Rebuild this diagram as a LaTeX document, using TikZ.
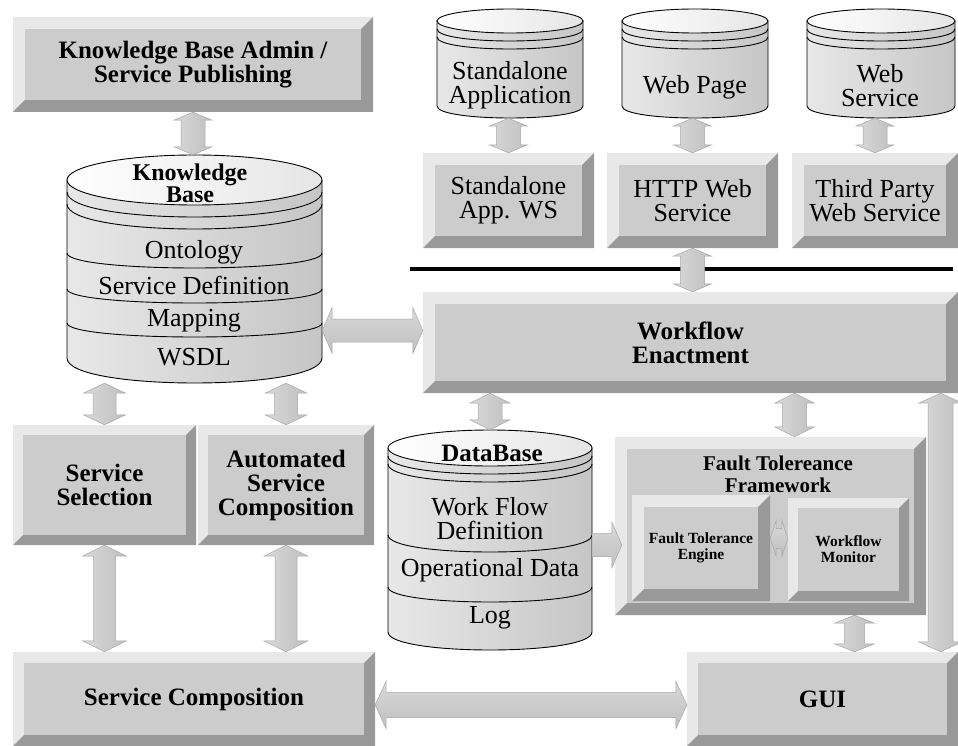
\documentclass[tikz,border=0pt]{standalone}
\usepackage{fontspec}
\setmainfont{Liberation Serif}
\usetikzlibrary{calc}
\definecolor{bvlight}{RGB}{232,232,232}
\definecolor{bvface}{RGB}{204,204,204}
\definecolor{bvdark}{RGB}{153,153,153}
\tikzset{
 bevel/.style={rectangle, inner sep=0pt, align=center, fill=bvface,
  path picture={
   \def\bv{#1pt}
   \fill[bvlight] (path picture bounding box.south west) rectangle (path picture bounding box.north east);
   \fill[bvdark] (path picture bounding box.north east) -- (path picture bounding box.south east)
     -- (path picture bounding box.south west) -- ([xshift=\bv,yshift=\bv]path picture bounding box.south west)
     -- ([xshift=-\bv,yshift=\bv]path picture bounding box.south east)
     -- ([xshift=-\bv,yshift=-\bv]path picture bounding box.north east) -- cycle;
   \fill[bvface] ([xshift=\bv,yshift=\bv]path picture bounding box.south west) rectangle ([xshift=-\bv,yshift=-\bv]path picture bounding box.north east);
  }},
 reg/.style={font=\fontsize{26}{24}\selectfont, align=center, inner sep=0pt},
 bld/.style={font=\fontsize{25}{24}\selectfont\bfseries, align=center, inner sep=0pt},
 sml/.style={font=\fontsize{15.5}{16}\selectfont\bfseries, align=center, inner sep=0pt},
 vshade/.style={left color=gray!30, middle color=white, right color=gray!50, draw=gray!70, line width=0.5pt},
 hshade/.style={top color=gray!30, middle color=white, bottom color=gray!50, draw=gray!70, line width=0.5pt},
 cylbody/.style={left color=gray!18, middle color=gray!3, right color=gray!45, draw=black, line width=0.9pt},
 cyltop/.style={left color=white, right color=gray!20, draw=black, line width=0.9pt},
 cylline/.style={draw=black, line width=0.9pt},
}
% vertical double block arrow: #1 top, #2 bottom, #3 shaft, #4 head width, #5 head length
\newcommand{\varrow}[5]{%
 \pgfmathsetmacro{\arW}{#3/2}\pgfmathsetmacro{\arH}{#4/2}\def\arL{#5}%
 \path[vshade] let \p1=#1, \p2=#2 in
  (\x1,\y1) -- ({\x1+\arH pt},{\y1-\arL pt}) -- ({\x1+\arW pt},{\y1-\arL pt})
  -- ({\x1+\arW pt},{\y2+\arL pt}) -- ({\x1+\arH pt},{\y2+\arL pt}) -- (\x1,\y2)
  -- ({\x1-\arH pt},{\y2+\arL pt}) -- ({\x1-\arW pt},{\y2+\arL pt})
  -- ({\x1-\arW pt},{\y1-\arL pt}) -- ({\x1-\arH pt},{\y1-\arL pt}) -- cycle;}
% horizontal double block arrow: #1 left, #2 right
\newcommand{\harrow}[5]{%
 \pgfmathsetmacro{\arW}{#3/2}\pgfmathsetmacro{\arH}{#4/2}\def\arL{#5}%
 \path[hshade] let \p1=#1, \p2=#2 in
  (\x1,\y1) -- ({\x1+\arL pt},{\y1+\arH pt}) -- ({\x1+\arL pt},{\y1+\arW pt})
  -- ({\x2-\arL pt},{\y1+\arW pt}) -- ({\x2-\arL pt},{\y1+\arH pt}) -- (\x2,\y1)
  -- ({\x2-\arL pt},{\y1-\arH pt}) -- ({\x2-\arL pt},{\y1-\arW pt})
  -- ({\x1+\arL pt},{\y1-\arW pt}) -- ({\x1+\arL pt},{\y1-\arH pt}) -- cycle;}
% horizontal single block arrow pointing right
\newcommand{\harrowr}[5]{%
 \pgfmathsetmacro{\arW}{#3/2}\pgfmathsetmacro{\arH}{#4/2}\def\arL{#5}%
 \path[hshade] let \p1=#1, \p2=#2 in
  (\x1,{\y1+\arW pt}) -- ({\x2-\arL pt},{\y1+\arW pt}) -- ({\x2-\arL pt},{\y1+\arH pt}) -- (\x2,\y1)
  -- ({\x2-\arL pt},{\y1-\arH pt}) -- ({\x2-\arL pt},{\y1-\arW pt}) -- (\x1,{\y1-\arW pt}) -- cycle;}
% cylinder: #1 name, #2 x1, #3 x2, #4 ytop, #5 ry, #6 ybottom, #7 offsets of rim lines
\newcommand{\cyl}[7]{%
 \pgfmathsetmacro{\CYcx}{(#2+#3)/2}%
 \pgfmathsetmacro{\CYrx}{(#3-#2)/2}%
 \pgfmathsetmacro{\CYya}{#4+#5}%
 \pgfmathsetmacro{\CYyb}{#6-#5}%
 \pgfmathsetmacro{\CYk}{#5*4/3}%
 \pgfmathsetmacro{\CYybk}{\CYyb+\CYk}%
 \pgfmathsetmacro{\CYym}{(#4+#6)/2}%
 \pgfmathsetmacro{\CYw}{#3-#2}%
 \pgfmathsetmacro{\CYh}{#6-#4}%
 \path[cylbody] (#2,\CYya) -- (#2,\CYyb) .. controls (#2,\CYybk) and (#3,\CYybk) .. (#3,\CYyb) -- (#3,\CYya) -- cycle;
 \path[cyltop] (\CYcx,\CYya) ellipse [x radius=\CYrx, y radius=#5];
 \foreach \d in {#7}{\pgfmathsetmacro{\CYt}{\CYya+\d}\pgfmathsetmacro{\CYtk}{\CYt+\CYk}%
   \draw[cylline] (#2,\CYt) .. controls (#2,\CYtk) and (#3,\CYtk) .. (#3,\CYt);}
 \node[inner sep=0pt, minimum width=\CYw pt, minimum height=\CYh pt] (#1) at (\CYcx,\CYym) {};
}
% section line of a cylinder: x1, x2, side y, depth
\newcommand{\cylsec}[4]{%
 \pgfmathsetmacro{\CYsk}{#3+#4*4/3}%
 \draw[cylline] (#1,#3) .. controls (#1,\CYsk) and (#2,\CYsk) .. (#2,#3);}
\begin{document}
\begin{tikzpicture}[x=1pt,y=-1pt]
\fill[white] (0,0) rectangle (958,746);
\useasboundingbox (0,0) rectangle (958,746);

% boxes
\node[bevel=12, minimum width=360pt, minimum height=95pt, bld] (kbadmin) at (193,64.5) {Knowledge Base Admin /\\Service Publishing};
\node[bevel=12, minimum width=171pt, minimum height=95pt, reg] (salws) at (508.5,200.5) {Standalone\\App. WS};
\node[bevel=12, minimum width=171pt, minimum height=95pt, reg] (httpws) at (692.5,200.5) {HTTP Web\\Service};
\node[bevel=12, minimum width=166pt, minimum height=95pt, reg] (tpws) at (875,200.5) {Third Party\\Web Service};
\node[bevel=12, minimum width=535pt, minimum height=101pt, bld] (wfe) at (690.5,342.5) {Workflow\\Enactment};
\node[bevel=10, minimum width=183pt, minimum height=120pt, bld] (ssel) at (104.5,485) {Service\\Selection};
\node[bevel=10, minimum width=176pt, minimum height=120pt, bld] (asc) at (286,485) {Automated\\Service\\Composition};
\node[bevel=12, minimum width=311pt, minimum height=178pt] (ftf) at (770.5,526) {};
\node[bld, font=\fontsize{21}{22}\selectfont\bfseries] (ftt) at (778,474) {Fault Tolereance\\Framework};
\node[bevel=12, minimum width=138pt, minimum height=106pt, sml] (fte) at (701,548) {Fault Tolerance\\Engine};
\node[bevel=10, minimum width=121pt, minimum height=103pt, sml] (wfm) at (848.5,549.5) {Workflow\\Monitor};
\node[bevel=11, minimum width=362pt, minimum height=94pt, bld] (scomp) at (194,699) {Service Composition};
\node[bevel=11, minimum width=271pt, minimum height=94pt, bld] (gui) at (822.5,699) {GUI};

% cylinders
\cyl{kb}{67}{322}{155}{25}{383}{12,24}
\cylsec{67}{322}{253}{15}
\cylsec{67}{322}{289}{14}
\cylsec{67}{322}{323}{14}
\node[bld, font=\fontsize{24}{21}\selectfont\bfseries] (kbt) at (190,183) {Knowledge\\Base};
\node[reg] (kbo) at (194,252) {Ontology};
\node[reg] (kbs) at (194,285) {Service Definition};
\node[reg] (kbm) at (194,321) {Mapping};
\node[reg] (kbw) at (194,357) {WSDL};

\cyl{db}{388}{592}{430}{18}{650}{8,16}
\cylsec{388}{592}{535}{17}
\cylsec{388}{592}{587}{15}
\node[bld] (dbt) at (492,453) {DataBase};
\node[reg] (dbw) at (490,519) {Work Flow\\Definition};
\node[reg] (dbo) at (490,570) {Operational Data};
\node[reg] (dbl) at (490,618) {Log};

\cyl{salc}{437}{583}{9}{12}{118}{8,16}
\node[reg] (salt) at (510,85) {Standalone\\Application};
\cyl{webp}{622}{768}{9}{12}{118}{8,16}
\node[reg] (webpt) at (695,87) {Web Page};
\cyl{websv}{807}{955}{9}{12}{118}{8,16}
\node[reg] (websvt) at (880,86) {Web\\Service};

% separator line
\draw[line width=4pt] (410,269) -- (953,269);

% connectors
\coordinate (kbwfe) at ($(wfe.west)+(0,-12)$);
\coordinate (dbft) at ($(db.east)+(0,5)$);
\coordinate (ftend) at ($(dbft -| ftf.west)+(7,0)$);
\coordinate (ftin) at ($(ftf.north)+(24,0)$);
\coordinate (guiA) at ($(gui.north)+(32,0)$);
\coordinate (guiB) at ($(gui.north)+(118,0)$);
\coordinate (fm) at ($(wfm.west)+(0,-11)$);
\coordinate (sg) at ($(gui.west)+(0,6)$);

\varrow{(kbadmin.south)}{(kb.north)}{24}{38}{8}
\varrow{(salc.south -| salws.north)}{(salws.north)}{24}{38}{8}
\varrow{(webp.south -| httpws.north)}{(httpws.north)}{24}{38}{8}
\varrow{(websv.south -| tpws.north)}{(tpws.north)}{24}{38}{8}
\varrow{(httpws.south)}{(httpws.south |- wfe.north)}{24}{38}{8}
\varrow{(kb.south -| ssel.north)}{(ssel.north)}{23}{42}{10}
\varrow{(kb.south -| asc.north)}{(asc.north)}{23}{42}{10}
\varrow{(ssel.south)}{(ssel.south |- scomp.north)}{22}{44}{11}
\varrow{(asc.south)}{(asc.south |- scomp.north)}{22}{44}{11}
\harrow{(kbwfe -| kb.east)}{(kbwfe)}{23}{46}{10}
\varrow{(wfe.south -| db.north)}{(db.north)}{24}{40}{10}
\varrow{(wfe.south -| ftin)}{(ftin)}{24}{40}{10}
\harrowr{(dbft)}{(ftend)}{23}{46}{10}
\harrow{(fm -| fte.east)}{(fm)}{20}{36}{6}
\varrow{(ftf.south -| guiA)}{(guiA)}{20}{40}{8}
\varrow{(wfe.south -| guiB)}{(guiB)}{25}{44}{10}
\harrow{(sg -| scomp.east)}{(sg)}{25}{48}{11}
\end{tikzpicture}
\end{document}
